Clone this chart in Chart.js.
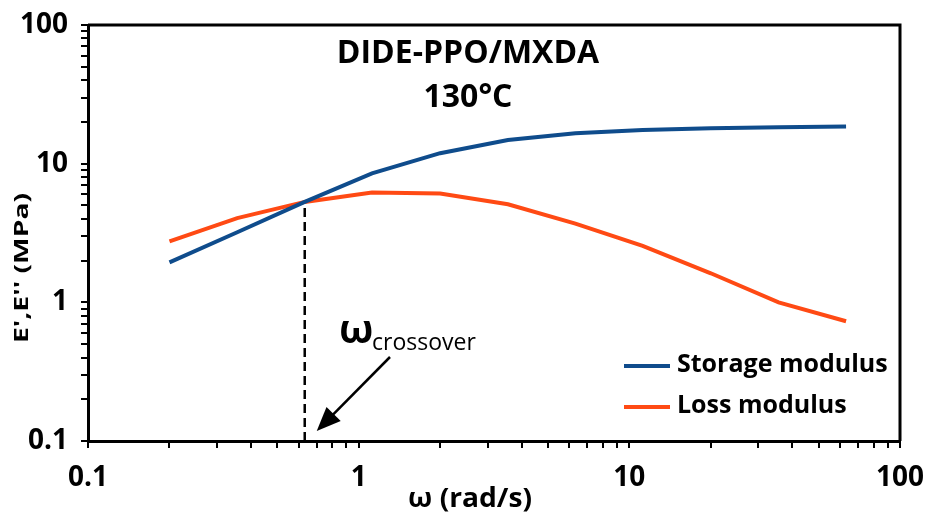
<!DOCTYPE html>
<html>
<head>
<meta charset="utf-8">
<script src="https://cdn.jsdelivr.net/npm/chart.js@4.4.1/dist/chart.umd.min.js"></script>
<style>
  html, body { margin: 0; padding: 0; background: #fff; }
  #wrap { width: 926px; height: 512px; }
</style>
</head>
<body>
<div id="wrap"><canvas id="myChart" width="926" height="512"></canvas></div>
<script>
'use strict';
// frequency (rad/s) and moduli (MPa)
let omega = [0.2, 0.356, 0.632, 1.12, 2, 3.56, 6.32, 11.2, 20, 35.6, 63.2];
let storageMod = [1.94, 3.2, 5.3, 8.5, 11.9, 14.8, 16.6, 17.5, 18.0, 18.3, 18.5];
let lossMod = [2.75, 4.05, 5.3, 6.2, 6.1, 5.1, 3.7, 2.55, 1.62, 1.0, 0.73];
let crossOmega = 0.632;
let crossMod = 5.3;
let majorTicks = [0.1, 1, 10, 100];
let tickVals = [];
for (let e = -1; e < 2; e++) {
    for (let s = 1; s < 10; s++) {
        tickVals.push(+(s * Math.pow(10, e)).toPrecision(3));
    }
}
tickVals.push(100);

let blue = '#0f4c8c';
let orange = '#ff4a14';
let fontName = "'Open Sans', 'Noto Sans', sans-serif";

function toXY(xs, ys) {
    return xs.map((x, i) => ({ x: x, y: ys[i] }));
}

function setTicks(scale) {
    scale.ticks = tickVals.map(v => ({ value: v, major: majorTicks.indexOf(v) >= 0 }));
}

function tickLabel(value) {
    return majorTicks.indexOf(value) >= 0 ? String(value) : '';
}

// text squeezed/stretched to a given width
function wideText(ctx, txt, x, y, w, rot) {
    ctx.save();
    ctx.translate(x, y);
    if (rot) ctx.rotate(rot);
    let k = w / ctx.measureText(txt).width;
    ctx.scale(k, 1);
    ctx.fillText(txt, 0, 0);
    ctx.restore();
}

let extras = {
    id: 'extras',
    afterDraw(chart) {
        let ctx = chart.ctx;
        let a = chart.chartArea;
        let xs = chart.scales.x;
        let ys = chart.scales.y;
        ctx.save();
        // frame on top and right
        ctx.strokeStyle = '#000';
        ctx.lineWidth = 3;
        ctx.beginPath();
        ctx.moveTo(a.left, a.top);
        ctx.lineTo(a.right, a.top);
        ctx.lineTo(a.right, a.bottom);
        ctx.stroke();

        // title
        ctx.fillStyle = '#000';
        ctx.textAlign = 'center';
        ctx.textBaseline = 'middle';
        ctx.font = 'bold 32px ' + fontName;
        ctx.fillText('DIDE-PPO/MXDA', 468, 54);
        ctx.fillText('130\u00B0C', 468, 98);

        // axis titles
        ctx.textBaseline = 'alphabetic';
        ctx.font = 'bold 26px ' + fontName;
        wideText(ctx, '\u03C9 (rad/s)', 470, 507, 124, 0);
        ctx.font = 'bold 19px ' + fontName;
        wideText(ctx, "E',E'' (MPa)", 28, 268, 150, -Math.PI / 2);

        // omega crossover label
        ctx.textAlign = 'left';
        ctx.textBaseline = 'middle';
        ctx.font = 'bold 40px ' + fontName;
        ctx.fillText('\u03C9', 339, 332);
        ctx.font = '23px ' + fontName;
        ctx.fillText('crossover', 372, 343);

        // arrow pointing to the crossover frequency on the axis
        let tipX = xs.getPixelForValue(crossOmega) + 12;
        let tipY = ys.getPixelForValue(0.1) - 10;
        let tailX = 390, tailY = 357;
        let ang = Math.atan2(tipY - tailY, tipX - tailX);
        ctx.lineWidth = 2.5;
        ctx.beginPath();
        ctx.moveTo(tailX, tailY);
        ctx.lineTo(tipX - 14 * Math.cos(ang), tipY - 14 * Math.sin(ang));
        ctx.stroke();
        ctx.beginPath();
        ctx.moveTo(tipX, tipY);
        ctx.lineTo(tipX - 24 * Math.cos(ang) + 10 * Math.sin(ang), tipY - 24 * Math.sin(ang) - 10 * Math.cos(ang));
        ctx.lineTo(tipX - 24 * Math.cos(ang) - 10 * Math.sin(ang), tipY - 24 * Math.sin(ang) + 10 * Math.cos(ang));
        ctx.closePath();
        ctx.fill();

        // legend
        let sets = chart.data.datasets.slice(0, 2);
        ctx.font = 'bold 25px ' + fontName;
        for (let i = 0; i < sets.length; i++) {
            let y = 366 + i * 41;
            ctx.strokeStyle = sets[i].borderColor;
            ctx.lineWidth = 4;
            ctx.beginPath();
            ctx.moveTo(624, y);
            ctx.lineTo(670, y);
            ctx.stroke();
            ctx.fillStyle = '#000';
            ctx.fillText(sets[i].label, 677, y - 1);
        }
        ctx.restore();
    }
};

let ctx = document.getElementById('myChart').getContext('2d');
let chart = new Chart(ctx, {
    type: 'line',
    data: {
        datasets: [{
            label: 'Storage modulus',
            data: toXY(omega, storageMod),
            borderColor: blue,
            borderWidth: 4,
            pointRadius: 0,
            tension: 0
        },
        {
            label: 'Loss modulus',
            data: toXY(omega, lossMod),
            borderColor: orange,
            borderWidth: 4,
            pointRadius: 0,
            tension: 0
        },
        {
            label: 'crossover',
            data: [{ x: crossOmega, y: 0.1 }, { x: crossOmega, y: crossMod }],
            borderColor: '#000',
            borderWidth: 2.5,
            borderDash: [9, 5],
            pointRadius: 0
        }]
    },
    options: {
        responsive: false,
        animation: false,
        devicePixelRatio: 1,
        layout: { padding: { left: 0, right: 26, top: 25, bottom: 0 } },
        plugins: {
            legend: { display: false },
            tooltip: { enabled: false }
        },
        scales: {
            x: {
                type: 'logarithmic',
                min: 0.1,
                max: 100,
                afterBuildTicks: setTicks,
                afterFit: s => { s.height = 71; s.paddingLeft = 0; s.paddingRight = 0; },
                border: { color: '#000', width: 3 },
                grid: { drawOnChartArea: false, drawTicks: true, tickLength: 7, color: '#000', lineWidth: 2 },
                ticks: {
                    autoSkip: false,
                    maxRotation: 0,
                    padding: 13,
                    color: '#000',
                    font: { family: fontName, size: 28, weight: 'bold' },
                    callback: tickLabel
                }
            },
            y: {
                type: 'logarithmic',
                min: 0.1,
                max: 100,
                afterBuildTicks: setTicks,
                afterFit: s => { s.width = 88; s.paddingTop = 0; s.paddingBottom = 0; },
                border: { color: '#000', width: 3 },
                grid: { drawOnChartArea: false, drawTicks: true, tickLength: 7, color: '#000', lineWidth: 2 },
                ticks: {
                    autoSkip: false,
                    padding: 13,
                    color: '#000',
                    font: { family: fontName, size: 28, weight: 'bold' },
                    callback: tickLabel
                }
            }
        }
    },
    plugins: [extras]
});
</script>
</body>
</html>
